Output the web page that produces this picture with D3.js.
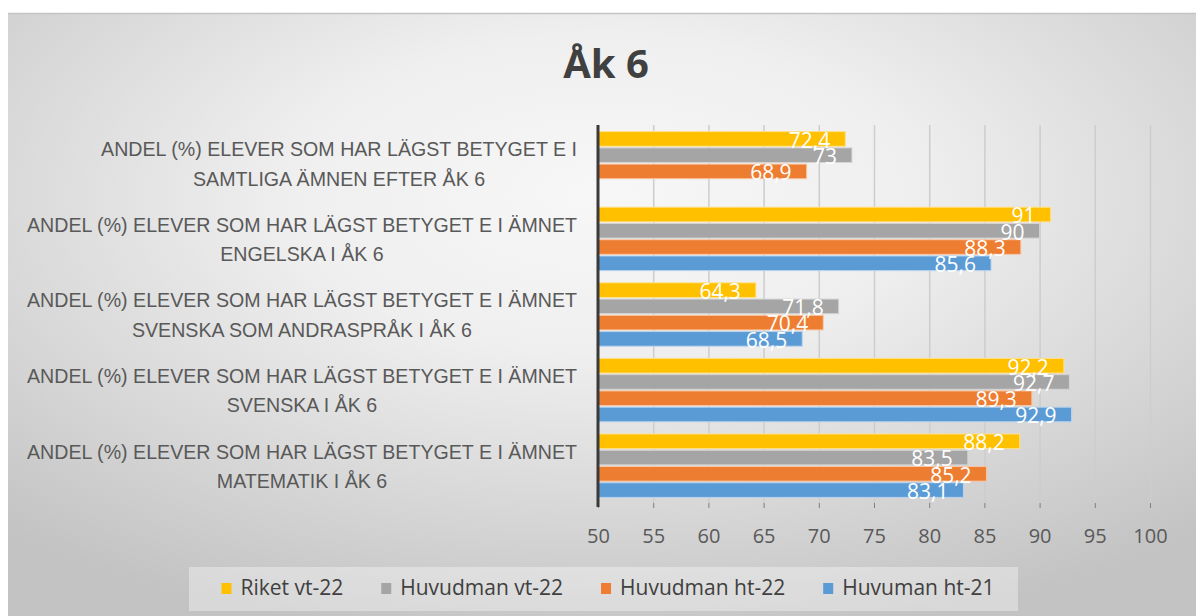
<!DOCTYPE html>
<html>
<head>
<meta charset="utf-8">
<script src="https://cdn.jsdelivr.net/npm/d3@7"></script>
<style>
  body { margin: 0; background: #fff; }
  svg { display: block; }
</style>
</head>
<body>
<svg id="chart" width="1196" height="616"></svg>
<script>
// kategorier (uppifrån och ned), varje etikett på två rader
var categories = [
  ["ANDEL (%) ELEVER SOM HAR LÄGST BETYGET E I", "SAMTLIGA ÄMNEN EFTER ÅK 6"],
  ["ANDEL (%) ELEVER SOM HAR LÄGST BETYGET E I ÄMNET", "ENGELSKA I ÅK 6"],
  ["ANDEL (%) ELEVER SOM HAR LÄGST BETYGET E I ÄMNET", "SVENSKA SOM ANDRASPRÅK I ÅK 6"],
  ["ANDEL (%) ELEVER SOM HAR LÄGST BETYGET E I ÄMNET", "SVENSKA I ÅK 6"],
  ["ANDEL (%) ELEVER SOM HAR LÄGST BETYGET E I ÄMNET", "MATEMATIK I ÅK 6"]
];

var seriesNames = ["Riket vt-22", "Huvudman vt-22", "Huvudman ht-22", "Huvuman ht-21"];
var riketVt22 = [72.4, 91, 64.3, 92.2, 88.2];
var huvudmanVt22 = [73, 90, 71.8, 92.7, 83.5];
var huvudmanHt22 = [68.9, 88.3, 70.4, 89.3, 85.2];
var huvumanHt21 = [null, 85.6, 68.5, 92.9, 83.1];
var xTicks = [50, 55, 60, 65, 70, 75, 80, 85, 90, 95, 100];

var seriesValues = [riketVt22, huvudmanVt22, huvudmanHt22, huvumanHt21];
var colors = ["#ffc000", "#a5a5a5", "#ed7d31", "#5b9bd5"];
var edge = ["#ffe08a", "#d4d4d4", "#f8c7a6", "#b8d3ee"];

var svg = d3.select("#chart");
var W = 1196, H = 616;

// bakgrund
var defs = svg.append("defs");
var grad = defs.append("radialGradient")
    .attr("id", "bg")
    .attr("cx", 0.5).attr("cy", 0.3).attr("r", 0.75);
grad.append("stop").attr("offset", "0").attr("stop-color", "#f7f7f7");
grad.append("stop").attr("offset", "0.35").attr("stop-color", "#efefef");
grad.append("stop").attr("offset", "1").attr("stop-color", "#c3c3c3");

svg.append("rect")
    .attr("x", 8).attr("y", 13)
    .attr("width", W - 8).attr("height", H - 13)
    .attr("fill", "url(#bg)");
svg.append("line")
    .attr("x1", 8).attr("x2", W).attr("y1", 13.5).attr("y2", 13.5)
    .attr("stroke", "#c4c4c4").attr("stroke-width", 1.5);

// titel
svg.append("text")
    .attr("x", 606).attr("y", 78)
    .attr("text-anchor", "middle")
    .style("font-family", "'Open Sans', 'DejaVu Sans', sans-serif")
    .style("font-weight", "bold")
    .style("font-size", "40px")
    .attr("fill", "#404040")
    .text("Åk 6");

// skalor
var x = d3.scaleLinear().domain([50, 100]).range([598, 1150]);

var y = d3.scaleBand()
    .domain(d3.range(categories.length))
    .range([125.5, 503.5])
    .paddingInner(0.14)
    .paddingOuter(0.07);

var ySub = d3.scaleBand()
    .domain(d3.range(seriesNames.length))
    .range([0, y.bandwidth()])
    .paddingInner(0.1)
    .paddingOuter(0.05);

// rutnät
var plotTop = 125, plotBottom = 503;
svg.append("g").selectAll("line")
    .data(xTicks.slice(1))
    .enter().append("line")
    .attr("x1", d => x(d) + 0.5).attr("x2", d => x(d) + 0.5)
    .attr("y1", plotTop).attr("y2", plotBottom)
    .attr("stroke", "#cdcdcd").attr("stroke-width", 1.5);

// x-axel
var xAxis = d3.axisBottom(x)
    .tickValues(xTicks)
    .tickSize(5)
    .tickPadding(21)
    .tickFormat(d3.format("d"));

var gx = svg.append("g")
    .attr("transform", "translate(0," + plotBottom + ")")
    .call(xAxis);
gx.select(".domain").remove();
gx.selectAll(".tick line").attr("stroke", "#7f7f7f");
gx.selectAll(".tick text")
    .attr("fill", "#595959")
    .style("font-family", "'Open Sans', 'Liberation Sans', sans-serif")
    .style("font-size", "20px");

// staplar
var rows = [];
categories.forEach(function (c, i) {
  seriesValues.forEach(function (vals, s) {
    if (vals[i] != null) rows.push({ cat: i, s: s, v: vals[i] });
  });
});

svg.append("g").selectAll("rect")
    .data(rows)
    .enter().append("rect")
    .attr("x", x(50))
    .attr("y", d => y(d.cat) + ySub(d.s))
    .attr("width", d => x(d.v) - x(50))
    .attr("height", ySub.bandwidth())
    .attr("fill", d => colors[d.s])
    .attr("stroke", d => edge[d.s])
    .attr("stroke-width", 1);

// dataetiketter
svg.append("g").selectAll("text")
    .data(rows)
    .enter().append("text")
    .attr("x", d => x(d.v) - 15)
    .attr("y", d => y(d.cat) + ySub(d.s) + ySub.bandwidth() / 2)
    .attr("dy", "0.42em")
    .attr("text-anchor", "end")
    .attr("fill", "#ffffff")
    .style("font-family", "'Open Sans', 'Liberation Sans', sans-serif")
    .style("font-size", "21px")
    .text(d => String(d.v).replace(".", ","));

// y-axel
svg.append("line")
    .attr("x1", x(50)).attr("x2", x(50))
    .attr("y1", plotTop).attr("y2", plotBottom + 4)
    .attr("stroke", "#3a3a3a").attr("stroke-width", 3);

// kategorietiketter: blocket högerjusterat, raderna centrerade i blocket
var catG = svg.append("g")
    .style("font-family", "'Liberation Sans Narrow', 'Liberation Sans', sans-serif")
    .style("font-size", "21px")
    .attr("fill", "#595959");

var labelRight = 577, lineGap = 29.5;
var blocks = categories.map(function (lines, i) {
  var cy = y(i) + y.bandwidth() / 2;
  return lines.map(function (ln, k) {
    return catG.append("text")
        .attr("y", cy + (k - 0.5) * lineGap)
        .attr("dy", "0.36em")
        .attr("text-anchor", "middle")
        .text(ln);
  });
});
// smalare typsnitt: längsta raden ska bli ca 550 px
var widest = d3.max(blocks, b => d3.max(b, t => t.node().getComputedTextLength()));
var k = 550 / widest;
blocks.forEach(function (b) {
  var ws = b.map(t => t.node().getComputedTextLength() * k);
  var cx = labelRight - d3.max(ws) / 2;
  b.forEach(function (t, j) {
    t.attr("x", cx).attr("textLength", ws[j]).attr("lengthAdjust", "spacingAndGlyphs");
  });
});

// förklaring
svg.append("rect")
    .attr("x", 189).attr("y", 567)
    .attr("width", 829).attr("height", 44)
    .attr("fill", "#ffffff").attr("fill-opacity", 0.35);

var legG = svg.append("g")
    .style("font-family", "'Open Sans', 'Liberation Sans', sans-serif")
    .style("font-size", "21px")
    .attr("fill", "#404040");

var items = seriesNames.map(function (n, i) {
  var g = legG.append("g");
  g.append("rect").attr("x", 0).attr("y", -12).attr("width", 10).attr("height", 11)
      .attr("fill", colors[i]);
  var t = g.append("text").attr("x", 19).attr("y", 0).text(n);
  return { g: g, w: 19 + t.node().getComputedTextLength() };
});
var gap = 38;
var total = d3.sum(items, d => d.w) + gap * (items.length - 1);
var lx = 608 - total / 2;
items.forEach(function (it) {
  it.g.attr("transform", "translate(" + lx + ",595)");
  lx += it.w + gap;
});
</script>
</body>
</html>
